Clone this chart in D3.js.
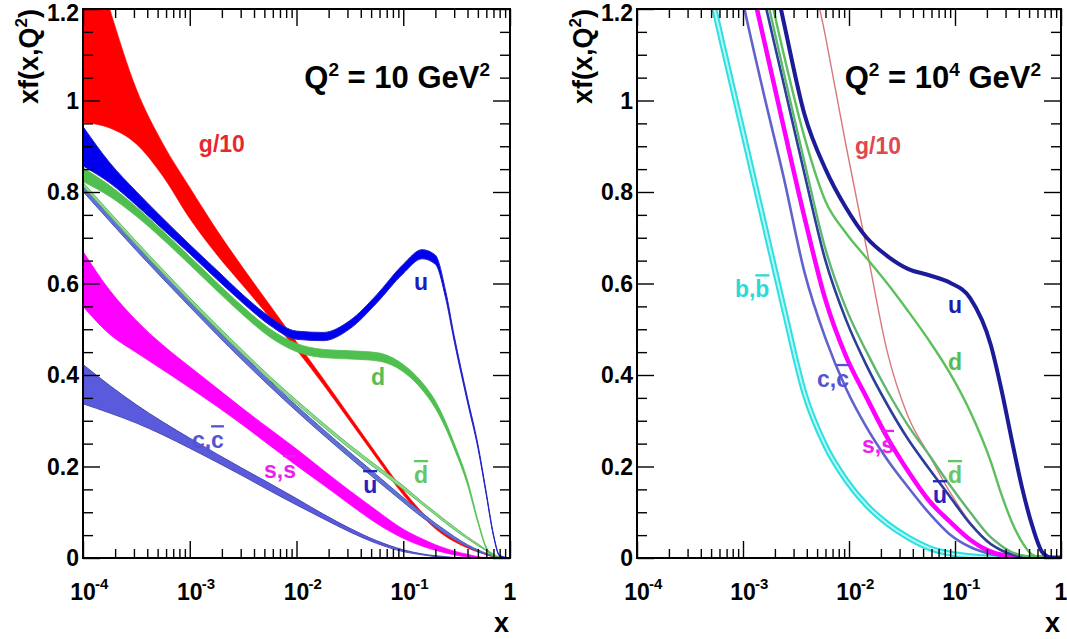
<!DOCTYPE html>
<html><head><meta charset="utf-8">
<script src="https://cdn.jsdelivr.net/npm/d3@7"></script>
<style>
body{margin:0;background:#fff}
text{font-family:"Liberation Sans",Arial,Helvetica,sans-serif;font-weight:bold;white-space:pre}
</style>
</head><body>
<svg id="chart" width="1067" height="639"></svg>
<script>
// ---------- DATA ----------
// Left panel: Q^2 = 10 GeV^2, uncertainty bands (lower / upper edges)
const xLeft = [1e-4, 1.78e-4, 3.16e-4, 5.62e-4, 1e-3, 1.78e-3, 3.16e-3, 5.62e-3, 0.01, 0.0178, 0.0316, 0.0562, 0.1, 0.15, 0.2, 0.25, 0.3, 0.4, 0.5, 0.6, 0.7, 0.8, 1];
const gLo10 = [0.952, 0.94, 0.905, 0.834, 0.742, 0.664, 0.595, 0.526, 0.455, 0.379, 0.299, 0.218, 0.138, 0.092, 0.064, 0.047, 0.036, 0.022, 0.013, 0.007, 0.002, 0, 0];
const gHi10 = [1.4, 1.2, 1.025, 0.905, 0.81, 0.718, 0.634, 0.553, 0.472, 0.392, 0.31, 0.228, 0.148, 0.1, 0.07, 0.052, 0.04, 0.025, 0.015, 0.008, 0.003, 0, 0];
const uLo10 = [0.857, 0.82, 0.771, 0.718, 0.665, 0.61, 0.557, 0.509, 0.478, 0.475, 0.501, 0.557, 0.622, 0.654, 0.642, 0.567, 0.474, 0.34, 0.241, 0.137, 0.048, 0.004, 0];
const uHi10 = [0.943, 0.864, 0.801, 0.742, 0.685, 0.63, 0.575, 0.527, 0.496, 0.493, 0.519, 0.575, 0.642, 0.674, 0.662, 0.583, 0.486, 0.35, 0.249, 0.143, 0.052, 0.006, 0];
const dLo10 = [0.823, 0.79, 0.747, 0.696, 0.641, 0.585, 0.531, 0.483, 0.451, 0.438, 0.435, 0.431, 0.407, 0.368, 0.327, 0.283, 0.239, 0.16, 0.077, 0.02, 0.003, 0, 0];
const dHi10 = [0.853, 0.814, 0.767, 0.714, 0.659, 0.603, 0.549, 0.501, 0.469, 0.456, 0.453, 0.449, 0.423, 0.384, 0.343, 0.297, 0.251, 0.17, 0.083, 0.024, 0.005, 0, 0];
const ubarLo10 = [0.801, 0.736, 0.672, 0.61, 0.549, 0.489, 0.431, 0.375, 0.321, 0.269, 0.219, 0.17, 0.122, 0.089, 0.068, 0.052, 0.041, 0.025, 0.014, 0.008, 0.003, 0.001, 0];
const ubarHi10 = [0.813, 0.748, 0.684, 0.622, 0.561, 0.501, 0.443, 0.387, 0.333, 0.281, 0.231, 0.182, 0.132, 0.099, 0.076, 0.06, 0.047, 0.029, 0.018, 0.01, 0.005, 0.001, 0];
const dbarLo10 = [0.813, 0.748, 0.684, 0.622, 0.561, 0.502, 0.445, 0.389, 0.337, 0.287, 0.239, 0.194, 0.15, 0.117, 0.094, 0.076, 0.062, 0.042, 0.027, 0.016, 0.007, 0.002, 0];
const dbarHi10 = [0.821, 0.756, 0.692, 0.63, 0.569, 0.51, 0.453, 0.397, 0.345, 0.295, 0.247, 0.202, 0.158, 0.123, 0.1, 0.082, 0.068, 0.046, 0.031, 0.018, 0.009, 0.002, 0];
const sLo10 = [0.55, 0.489, 0.449, 0.411, 0.372, 0.332, 0.29, 0.246, 0.202, 0.16, 0.117, 0.076, 0.043, 0.026, 0.017, 0.011, 0.007, 0.002, 0.001, 0, 0, 0, 0];
const sHi10 = [0.67, 0.585, 0.519, 0.465, 0.418, 0.372, 0.326, 0.282, 0.238, 0.192, 0.147, 0.104, 0.063, 0.042, 0.029, 0.021, 0.015, 0.008, 0.003, 0.001, 0, 0, 0];
const cLo10 = [0.337, 0.317, 0.295, 0.269, 0.24, 0.21, 0.179, 0.147, 0.116, 0.086, 0.057, 0.032, 0.014, 0.007, 0.003, 0.001, 0, 0, 0, 0, 0, 0, 0];
const cHi10 = [0.423, 0.377, 0.335, 0.297, 0.262, 0.228, 0.195, 0.163, 0.13, 0.096, 0.065, 0.038, 0.018, 0.009, 0.005, 0.003, 0.001, 0, 0, 0, 0, 0, 0];

// Right panel: Q^2 = 10^4 GeV^2, central curves
const xRight = [4e-4, 6.3e-4, 9.9e-4, 1.55e-3, 2.43e-3, 3.8e-3, 6e-3, 9.4e-3, 0.0147, 0.023, 0.036, 0.057, 0.089, 0.139, 0.218, 0.273, 0.342, 0.428, 0.536, 0.671, 0.841, 1];
const gR = [3.0, 2.6, 2.3, 2.0, 1.75, 1.37, 1.14, 0.9, 0.675, 0.45, 0.31, 0.225, 0.145, 0.078, 0.032, 0.018, 0.009, 0.004, 0.001, 0, 0, 0];
const bR = [1.33, 1.13, 0.935, 0.74, 0.545, 0.36, 0.245, 0.17, 0.115, 0.075, 0.045, 0.022, 0.01, 0.004, 0.001, 0, 0, 0, 0, 0, 0, 0];
const cR = [1.8, 1.45, 1.22, 1.02, 0.83, 0.625, 0.48, 0.37, 0.285, 0.215, 0.155, 0.098, 0.052, 0.024, 0.009, 0.005, 0.002, 0.001, 0, 0, 0, 0];
const sR = [1.9, 1.55, 1.34, 1.14, 0.94, 0.745, 0.564, 0.44, 0.35, 0.263, 0.19, 0.125, 0.08, 0.04, 0.014, 0.007, 0.003, 0.001, 0, 0, 0, 0];
const ubarR = [2.0, 1.65, 1.43, 1.23, 1.035, 0.84, 0.65, 0.52, 0.42, 0.335, 0.26, 0.195, 0.135, 0.075, 0.03, 0.017, 0.008, 0.003, 0.001, 0, 0, 0];
const dbarR = [2.0, 1.68, 1.46, 1.26, 1.06, 0.865, 0.675, 0.545, 0.45, 0.365, 0.29, 0.225, 0.16, 0.1, 0.045, 0.027, 0.013, 0.006, 0.002, 0, 0, 0];
const dR = [2.1, 1.75, 1.5, 1.3, 1.1, 0.92, 0.78, 0.71, 0.655, 0.6, 0.54, 0.475, 0.405, 0.32, 0.21, 0.14, 0.08, 0.035, 0.007, 0.001, 0, 0];
const uR = [2.2, 1.85, 1.6, 1.38, 1.17, 0.97, 0.85, 0.765, 0.7, 0.66, 0.632, 0.618, 0.602, 0.568, 0.465, 0.37, 0.26, 0.155, 0.07, 0.012, 0, 0];

// Axis ticks
const xMajorTicks = [1e-4, 1e-3, 1e-2, 1e-1, 1];
const xTickExponents = ["-4", "-3", "-2", "-1", ""];
const yMajorTicks = [0, 0.2, 0.4, 0.6, 0.8, 1, 1.2];
const yTickLabels = ["0", "0.2", "0.4", "0.6", "0.8", "1", "1.2"];

// Curve labels ([..] = overlined)
const labelNamesL = ["g/10", "u", "d", "[d]", "[u]", "s,[s]", "c,[c]"];
const labelXL = [2.0e-3, 0.147, 0.058, 0.147, 0.049, 7.0e-3, 1.48e-3];
const labelYL = [0.887, 0.586, 0.378, 0.164, 0.142, 0.175, 0.24];
const labelNamesR = ["g/10", "u", "d", "[d]", "[u]", "s,[s]", "c,[c]", "b,[b]"];
const labelXR = [0.0188, 0.1, 0.1, 0.1, 0.0721, 0.0188, 7.06e-3, 1.22e-3];
const labelYR = [0.883, 0.536, 0.411, 0.164, 0.120, 0.23, 0.374, 0.57];

// ---------- DRAWING ----------
const svg = d3.select("#chart");
const Y0 = 558, Y1 = 9;
const panels = [
  {x0: 83, x1: 510, id: "L", qExp: null},
  {x0: 637, x1: 1061, id: "R", qExp: "4"}
];
const colL = {g:"#ff0000", u:"#0000ee", d:"#4fbf4f", ubar:"#6272d4", dbar:"#8edb8e", s:"#ff00ff", c:"#5a5adc"};
const labColL = ["#e8282e", "#1c1cc4", "#56bd56", "#66c666", "#2424bc", "#ee1eee", "#5454d2"];
const labColR = ["#e0484e", "#1c1ca8", "#56bd56", "#66c666", "#2424bc", "#ee1eee", "#5454d2", "#2fd8d8"];

function axes(g, xs, ys, p) {
  const minors = [];
  for (let e = -4; e < 0; e++) for (let k = 2; k <= 9; k++) minors.push(k * Math.pow(10, e));
  const yMinor = d3.range(0, 1.2001, 0.05).filter(v => Math.abs(v / 0.2 - Math.round(v / 0.2)) > 1e-6);
  const mk = (gen, tr) => g.append("g").attr("transform", tr).call(gen)
      .call(s => s.select(".domain").remove())
      .call(s => s.selectAll("line").attr("stroke", "#000").attr("stroke-width", 1.4));
  mk(d3.axisBottom(xs).tickValues(xMajorTicks).tickSize(-17).tickFormat(""), `translate(0,${Y0})`);
  mk(d3.axisBottom(xs).tickValues(minors).tickSize(-9).tickFormat(""), `translate(0,${Y0})`);
  mk(d3.axisTop(xs).tickValues(xMajorTicks).tickSize(-17).tickFormat(""), `translate(0,${Y1})`);
  mk(d3.axisTop(xs).tickValues(minors).tickSize(-9).tickFormat(""), `translate(0,${Y1})`);
  mk(d3.axisLeft(ys).tickValues(yMajorTicks).tickSize(-17).tickFormat(""), `translate(${p.x0},0)`);
  mk(d3.axisLeft(ys).tickValues(yMinor).tickSize(-10).tickFormat(""), `translate(${p.x0},0)`);
  mk(d3.axisRight(ys).tickValues(yMajorTicks).tickSize(-17).tickFormat(""), `translate(${p.x1},0)`);
  mk(d3.axisRight(ys).tickValues(yMinor).tickSize(-10).tickFormat(""), `translate(${p.x1},0)`);
  g.append("rect").attr("x", p.x0).attr("y", Y1).attr("width", p.x1 - p.x0).attr("height", Y0 - Y1)
    .attr("fill", "none").attr("stroke", "#000").attr("stroke-width", 2);
  yMajorTicks.forEach((v, i) => {
    const top = i === yMajorTicks.length - 1;
    g.append("text").attr("x", p.x0 - 4).attr("y", top ? 21 : ys(v)).attr("dy", top ? 0 : "0.36em")
      .attr("text-anchor", "end").attr("font-size", 23).text(yTickLabels[i]);
  });
  xMajorTicks.forEach((v, i) => {
    const t = g.append("text").attr("x", xs(v)).attr("y", 600).attr("text-anchor", "middle").attr("font-size", 23);
    t.text(xTickExponents[i] === "" ? "1" : "10");
    if (xTickExponents[i] !== "") {
      g.append("text").attr("x", xs(v) + 12).attr("y", 589).attr("font-size", 15).text(xTickExponents[i]);
    }
  });
  g.append("text").attr("x", p.x1 - 1).attr("y", 632).attr("text-anchor", "end").attr("font-size", 27).text("x");
  const yt = g.append("text").attr("transform", `translate(${p.x0 - 45},9) rotate(-90)`)
    .attr("text-anchor", "end").attr("font-size", 27);
  yt.append("tspan").text("xf(x,Q");
  yt.append("tspan").attr("dy", -11).attr("font-size", 17).text("2");
  yt.append("tspan").attr("dy", 11).attr("font-size", 27).text(")");
  const q = g.append("text").attr("x", p.x1 - 20).attr("y", 88).attr("text-anchor", "end").attr("font-size", 31);
  q.append("tspan").text("Q");
  q.append("tspan").attr("dy", -12).attr("font-size", 19).text("2");
  q.append("tspan").attr("dy", 12).attr("font-size", 31).text(" = 10");
  if (p.qExp) {
    q.append("tspan").attr("dy", -12).attr("font-size", 19).text(p.qExp);
    q.append("tspan").attr("dy", 12).attr("font-size", 31).text(" GeV");
  } else {
    q.append("tspan").text(" GeV");
  }
  q.append("tspan").attr("dy", -12).attr("font-size", 19).text("2");
}

function labels(g, xs, ys, names, lx, ly, cols) {
  names.forEach((n, i) => {
    const t = g.append("text").attr("x", xs(lx[i])).attr("y", ys(ly[i]))
      .attr("text-anchor", "middle").attr("font-size", 23).attr("fill", cols[i]);
    const parts = n.split(/(\[[^\]]+\])/).filter(s => s.length);
    parts.forEach(s => {
      if (s[0] === "[") t.append("tspan").style("text-decoration", "overline").text(s.slice(1, -1));
      else t.append("tspan").text(s);
    });
  });
}

panels.forEach(p => {
  const g = svg.append("g");
  const xs = d3.scaleLog().domain([1e-4, 1]).range([p.x0, p.x1]);
  const ys = d3.scaleLinear().domain([0, 1.2]).range([Y0, Y1]);
  const clipId = "clip" + p.id;
  svg.append("clipPath").attr("id", clipId).append("rect")
    .attr("x", p.x0).attr("y", Y1).attr("width", p.x1 - p.x0).attr("height", Y0 - Y1);
  const plot = g.append("g").attr("clip-path", `url(#${clipId})`);

  if (p.id === "L") {
    const idx = d3.range(xLeft.length);
    const band = (lo, hi) => d3.area().x(i => xs(xLeft[i])).y0(i => ys(lo[i])).y1(i => ys(hi[i])).curve(d3.curveMonotoneX)(idx);
    const bands = [
      [gLo10, gHi10, colL.g, colL.g, 0.6],
      [cLo10, cHi10, colL.c, "#4a4ab4", 1],
      [sLo10, sHi10, colL.s, colL.s, 0.8],
      [ubarLo10, ubarHi10, colL.ubar, "#4a5ab4", 1],
      [dbarLo10, dbarHi10, colL.dbar, "#62bb62", 1],
      [dLo10, dHi10, colL.d, colL.d, 0.8],
      [uLo10, uHi10, colL.u, "#2424c8", 1]
    ];
    bands.forEach(b => plot.append("path").attr("d", band(b[0], b[1]))
      .attr("fill", b[2]).attr("stroke", b[3]).attr("stroke-width", b[4]));
    labels(g, xs, ys, labelNamesL, labelXL, labelYL, labColL);
  } else {
    const idx = d3.range(xRight.length);
    const line = v => d3.line().x(i => xs(xRight[i])).y(i => ys(v[i])).curve(d3.curveMonotoneX)(idx);
    const lines = [
      [gR, "#d9787c", 1.4],
      [bR, "#2ee0e0", 6],
      [bR, "#b9f6f6", 2],
      [cR, "#6262cc", 2.6],
      [sR, "#ff00ff", 4.5],
      [ubarR, "#2c3e9c", 2.6],
      [dbarR, "#5fb76f", 2.4],
      [dR, "#5cc05c", 2.4],
      [uR, "#1c1c98", 4]
    ];
    lines.forEach(l => plot.append("path").attr("d", line(l[0]))
      .attr("fill", "none").attr("stroke", l[1]).attr("stroke-width", l[2]));
    labels(g, xs, ys, labelNamesR, labelXR, labelYR, labColR);
  }
  axes(g, xs, ys, p);
});
</script>
</body></html>
